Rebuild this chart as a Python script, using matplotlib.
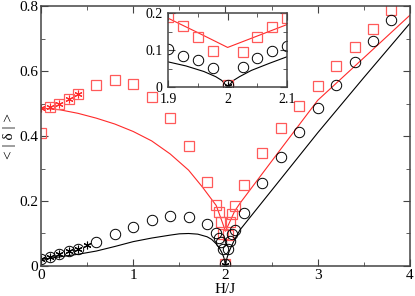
import matplotlib
matplotlib.use('Agg')
import matplotlib.pyplot as plt
from matplotlib.ticker import MultipleLocator

plt.rcParams['font.family'] = ['Liberation Serif', 'DejaVu Serif']

RED = '#ff2a2a'
SQ_RED = '#ff5a5a'

# Simbolos: cuadrados rojos y circulos negros (barrido en H/J)
h_main = [0.0, 0.1, 0.2, 0.3, 0.4, 0.6, 0.8, 1.0, 1.2, 1.4, 1.6, 1.8,
          2.2, 2.4, 2.6, 2.8, 3.0, 3.2, 3.4, 3.6, 3.8]
sq_main = [0.41, 0.488, 0.50, 0.514, 0.53, 0.558, 0.571, 0.56, 0.519, 0.456, 0.369, 0.26,
           0.249, 0.347, 0.424, 0.492, 0.554, 0.615, 0.675, 0.731, 0.788]
h_circ = [0.0, 0.1, 0.2, 0.3, 0.4, 0.6, 0.8, 1.0, 1.2, 1.4, 1.6, 1.8,
          2.2, 2.4, 2.6, 2.8, 3.0, 3.2, 3.4, 3.6, 3.8]
circ_main = [0.022, 0.029, 0.037, 0.046, 0.052, 0.075, 0.098, 0.121, 0.142, 0.154, 0.152, 0.128,
             0.162, 0.254, 0.334, 0.411, 0.485, 0.557, 0.627, 0.692, 0.757]

# Puntos cerca de H/J = 2 (tambien en el inset)
h_crit = [1.9, 1.925, 1.95, 1.975, 2.0, 2.025, 2.05, 2.075, 2.1]
sq_crit = [0.188, 0.165, 0.136, 0.098, 0.005, 0.095, 0.134, 0.161, 0.186]
circ_crit = [0.102, 0.085, 0.073, 0.052, 0.005, 0.053, 0.078, 0.097, 0.112]

# Asteriscos
h_star_red = [0.0, 0.1, 0.2, 0.3, 0.4]
star_red = [0.485, 0.488, 0.50, 0.514, 0.53]
h_star_black = [0.0, 0.1, 0.2, 0.3, 0.4, 0.5, 2.0]
star_black = [0.022, 0.029, 0.037, 0.046, 0.052, 0.065, 0.003]

# Curvas teoricas
h_red_line = [0.0, 0.2, 0.4, 0.6, 0.8, 1.0, 1.2, 1.4, 1.6, 1.75, 1.85, 1.9, 1.95, 2.0,
              2.05, 2.1, 2.157, 2.6, 3.0, 3.6, 4.0]
red_line = [0.486, 0.481, 0.47, 0.455, 0.437, 0.414, 0.385, 0.345, 0.295, 0.243, 0.205, 0.186,
            0.147, 0.107, 0.138, 0.169, 0.193, 0.36, 0.51, 0.667, 0.772]
h_black_line = [0.0, 0.2, 0.4, 0.6, 0.8, 1.0, 1.2, 1.4, 1.5, 1.6, 1.7, 1.8, 1.85, 1.9, 1.93,
                1.96, 1.98, 1.99, 2.0, 2.01, 2.02, 2.04, 2.07, 2.1, 2.157, 2.6, 3.0, 3.5, 4.0]
black_line = [0.02, 0.028, 0.036, 0.046, 0.06, 0.075, 0.086, 0.095, 0.099, 0.1, 0.098, 0.09,
              0.082, 0.068, 0.057, 0.042, 0.028, 0.018, 0.0, 0.018, 0.028, 0.045, 0.064,
              0.082, 0.111, 0.268, 0.41, 0.58, 0.747]

ASTERISK = (6, 2, 0)  # asterisco de 6 brazos, como en xmgrace


def draw_data(ax, ms, ms_star):
    ax.plot(h_red_line, red_line, '-', color=RED, lw=0.8)
    ax.plot(h_black_line, black_line, '-', color='black', lw=0.8)
    ax.plot(h_main + h_crit, sq_main + sq_crit, ls='none', marker='s', mfc='none', mec=SQ_RED,
            mew=0.9, ms=ms)
    ax.plot(h_circ + h_crit, circ_main + circ_crit, ls='none', marker='o', mfc='none',
            mec='black', mew=0.7, ms=ms)
    ax.plot(h_star_red, star_red, ls='none', marker=ASTERISK, color=RED, ms=ms_star, mew=0.8)
    ax.plot(h_star_black, star_black, ls='none', marker=ASTERISK, color='black', ms=ms_star,
            mew=0.8)


def style_axes(ax, fs):
    for sp in ax.spines.values():
        sp.set_color('#444444')
        sp.set_linewidth(1.1)
    ax.tick_params(which='both', direction='in', top=True, right=True, labelsize=fs,
                   color='#444444', pad=2)
    ax.tick_params(which='major', length=5)
    ax.tick_params(which='minor', length=3)


fig = plt.figure(figsize=(4.15, 2.96), dpi=100)

# Grafico principal
ax = fig.add_axes([0.0988, 0.1014, 0.889, 0.878])
draw_data(ax, 7.5, 5.5)
ax.set_xlim(0, 4)
ax.set_ylim(0, 0.8)
ax.set_xticks([0, 1, 2, 3, 4])
ax.set_xticklabels(['0', '1', '2', '3', '4'])
ax.xaxis.set_minor_locator(MultipleLocator(0.5))
ax.set_yticks([0, 0.2, 0.4, 0.6, 0.8])
ax.set_yticklabels(['0', '0.2', '0.4', '0.6', '0.8'])
ax.yaxis.set_minor_locator(MultipleLocator(0.1))
style_axes(ax, 11)
ax.set_xlabel('H/J', fontsize=11, labelpad=1)
ax.set_ylabel('< | δ | >', fontsize=11, labelpad=2)

# Inset alrededor de H/J = 2
axin = fig.add_axes([0.405, 0.706, 0.287, 0.25])
draw_data(axin, 7.5, 5.5)
axin.set_xlim(1.9, 2.1)
axin.set_ylim(0, 0.2)
axin.set_xticks([1.9, 2.0, 2.1])
axin.set_xticklabels(['1.9', '2', '2.1'])
axin.xaxis.set_minor_locator(MultipleLocator(0.05))
axin.set_yticks([0, 0.1, 0.2])
axin.set_yticklabels(['0', '0.1', '0.2'])
axin.yaxis.set_minor_locator(MultipleLocator(0.05))
style_axes(axin, 10)
axin.tick_params(axis='x', pad=4)
axin.tick_params(axis='y', pad=4)
axin.set_facecolor('white')

fig.savefig('out.png', dpi=100)
